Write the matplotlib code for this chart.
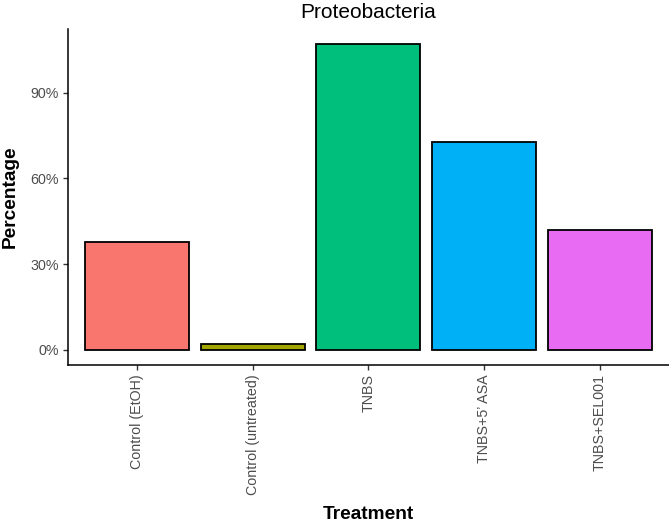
import matplotlib
matplotlib.use('Agg')
import matplotlib.pyplot as plt
from matplotlib.ticker import FuncFormatter

# data
#------------------------------------------------------------------------------
treatments = ['Control (EtOH)', 'Control (untreated)', 'TNBS',
              'TNBS+5\u2019 ASA', 'TNBS+SEL001']
percentage = [37.7, 2.0, 106.9, 72.6, 41.9]
bar_colors = ['#F8766D', '#A3A500', '#00BF7D', '#00B0F6', '#E76BF3']
y_ticks = [0, 30, 60, 90]
#------------------------------------------------------------------------------

plt.rcParams['font.family'] = ['Liberation Sans', 'DejaVu Sans']

fig = plt.figure(figsize=(6.69, 5.27), dpi=100)
ax = fig.add_axes([0.1012, 0.3074, 0.8988, 0.6374])

x = list(range(len(treatments)))
ax.bar(x, percentage, width=0.9, color=bar_colors,
       edgecolor='black', linewidth=1.3)

# ggplot style expansion
ax.set_xlim(-0.6, len(treatments) - 0.4)
top = max(percentage)
ax.set_ylim(-0.05 * top, 1.05 * top)

ax.set_xticks(x)
ax.set_xticklabels(treatments, rotation=90, ha='center', va='top')
ax.set_yticks(y_ticks)
ax.yaxis.set_major_formatter(FuncFormatter(lambda v, p: '%d%%' % v))

for side in ['top', 'right']:
    ax.spines[side].set_visible(False)
for side in ['left', 'bottom']:
    ax.spines[side].set_linewidth(1.1)
    ax.spines[side].set_color('black')

ax.tick_params(axis='both', length=3.5, width=1.0, color='#333333',
               labelcolor='#4D4D4D', labelsize=10.3, pad=3)

ax.set_title('Proteobacteria', fontsize=15, pad=8)
ax.set_xlabel('Treatment', fontsize=13.8, fontweight='bold', labelpad=8)
ax.set_ylabel('Percentage', fontsize=13.8, fontweight='bold', labelpad=8)

fig.savefig('out.png', dpi=100)
